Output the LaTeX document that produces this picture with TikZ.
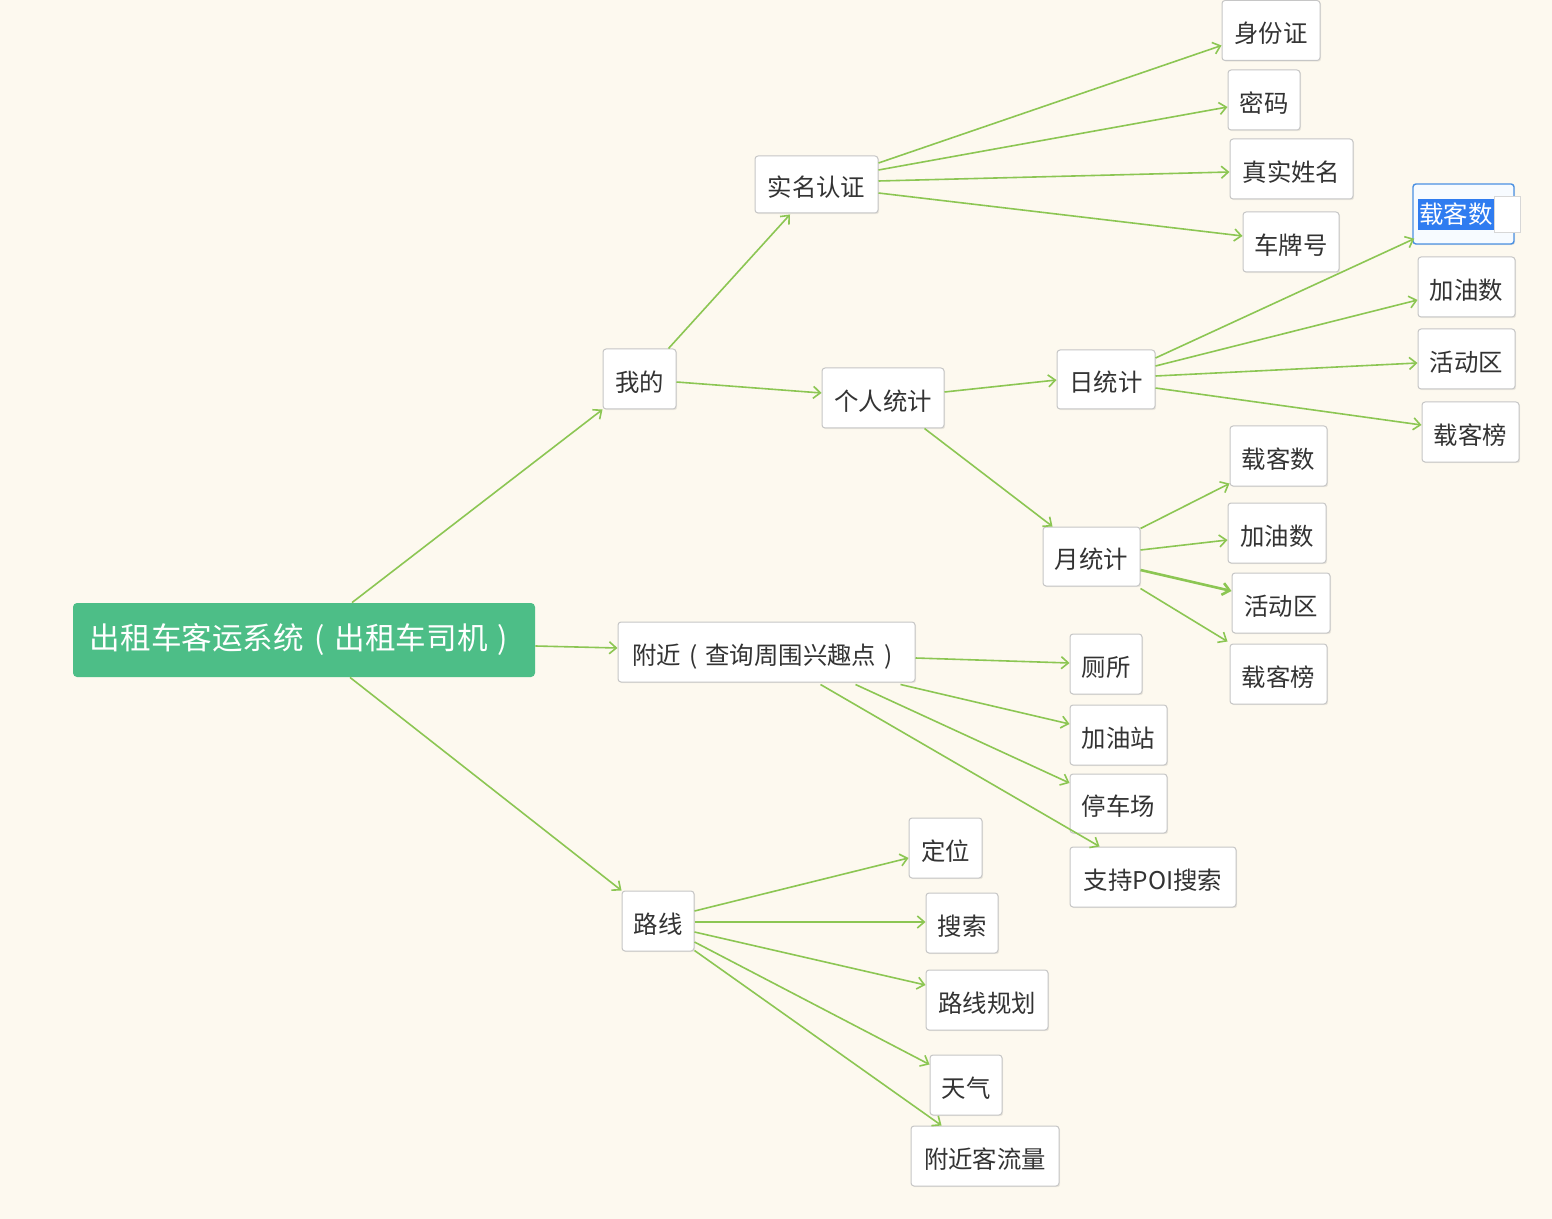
\documentclass[tikz,border=0pt]{standalone}
\usepackage{fontspec}
\newfontfamily\cjk{Noto Sans CJK SC}
\usetikzlibrary{arrows.meta,calc,shadows}
\definecolor{bg}{HTML}{FDF9EF}
\definecolor{boxgray}{HTML}{C6C6C6}
\definecolor{txt}{HTML}{333333}
\definecolor{lgreen}{HTML}{8CC653}
\definecolor{rootgreen}{HTML}{4DBE87}
\definecolor{selblue}{HTML}{4A90E2}
\definecolor{selfill}{HTML}{F7FBFF}
\definecolor{hl}{HTML}{2F7CF0}
\newcommand{\fwl}{\makebox[1em]{(}}
\newcommand{\fwr}{\makebox[1em]{)}}
\begin{document}
\begin{tikzpicture}[x=0.5pt,y=-0.5pt,
  box/.style={draw=boxgray, fill=white, rounded corners=1.5pt, minimum height=30pt,
    inner sep=0pt, line width=0.5pt, text=txt, font=\cjk\fontsize{12.2}{14}\selectfont,
    text height=12.4pt, text depth=0.2pt,
    drop shadow={shadow xshift=0.6pt,shadow yshift=-0.6pt,fill=black,opacity=0.07}},
  rootbox/.style={fill=rootgreen, rounded corners=2pt, minimum height=37pt, minimum width=231pt,
    inner sep=0pt, text=white, font=\cjk\fontsize{15.3}{18}\selectfont},
  link/.style={draw=lgreen, line width=0.8pt, -{Straight Barb[length=3.5pt,width=6pt]}},
  thick link/.style={link, line width=1.3pt}]
\fill[bg] (0,0) rectangle (1552,1219);
\useasboundingbox (0,0) rectangle (1552,1219);

% nodes
\node[rootbox] (root) at (304,640) {出租车客运系统\fwl 出租车司机\fwr};
\node[box, minimum width=36.5pt] (wode) at (639.5,379) {我的};
\node[box, minimum width=61.5pt, minimum height=28.5pt] (shiming) at (816.5,184.5) {实名认证};
\node[box, minimum width=49pt] (sfz) at (1271,30.5) {身份证};
\node[box, minimum width=36pt] (mima) at (1264,100) {密码};
\node[box, minimum width=61.5pt] (xm) at (1291.5,169) {真实姓名};
\node[box, minimum width=48pt] (cp) at (1291,242) {车牌号};
\node[box, minimum width=61pt] (geren) at (883,398) {个人统计};
\node[box, minimum width=49pt, minimum height=29.5pt] (ri) at (1106,379.5) {日统计};
\node[box, draw=selblue, fill=selfill, line width=0.7pt, minimum width=50.5pt] (zk1) at (1463.5,214) {};
\node[draw=boxgray!70, fill=white, minimum width=13pt, minimum height=18pt, inner sep=0pt] (cursor) at (1507,214.5) {};
\node[fill=hl, text=white, inner sep=0.5pt, minimum height=15.5pt, font=\cjk\fontsize{12.2}{14}\selectfont] (zk1t) at (1456,214.5) {载客数};
\node[box, minimum width=48.5pt] (jy1) at (1466.5,287) {加油数};
\node[box, minimum width=48.5pt] (hd1) at (1466.5,359) {活动区};
\node[box, minimum width=48.5pt] (bang1) at (1470.5,432) {载客榜};
\node[box, minimum width=48.5pt, minimum height=29.5pt] (yue) at (1091.5,556.5) {月统计};
\node[box, minimum width=48.5pt] (zk2) at (1278.5,456) {载客数};
\node[box, minimum width=49pt] (jy2) at (1277,533) {加油数};
\node[box, minimum width=49pt] (hd2) at (1281,603) {活动区};
\node[box, minimum width=48.5pt] (bang2) at (1278.5,674) {载客榜};
\node[box, minimum width=148.5pt] (fujin) at (766.5,652) {附近\fwl 查询周围兴趣点\fwr};
\node[box, minimum width=36pt] (cesuo) at (1106,664) {厕所};
\node[box, minimum width=48.5pt] (jyz) at (1118.5,735) {加油站};
\node[box, minimum width=48.5pt, minimum height=29.5pt] (tcc) at (1118.5,803.5) {停车场};
\node[box, minimum width=83pt] (poi) at (1153,877) {支持POI搜索};
\node[box, minimum width=36pt] (lx) at (658,921) {路线};
\node[box, minimum width=36.5pt] (dw) at (945.5,848) {定位};
\node[box, minimum width=36pt] (ss) at (962,923) {搜索};
\node[box, minimum width=61pt] (gh) at (987,1000) {路线规划};
\node[box, minimum width=36pt] (tq) at (966,1085) {天气};
\node[box, minimum width=74pt] (kl) at (985,1156) {附近客流量};

% connectors
\draw[link] ($(root.north)+(48,0)$) -- (wode.south west);
\draw[link] ($(root.east)+(0,6)$) -- ($(fujin.west)+(0,-4)$);
\draw[link] ($(root.south)+(46,0)$) -- (lx.north west);

\draw[link] ($(wode.north east)+(-8,0)$) -- ($(shiming.south)+(-26.5,1)$);
\draw[link] ($(wode.east)+(0,3)$) -- ($(geren.west)+(0,-5)$);

\draw[link] ($(shiming.east)+(0,-21.5)$) -- ($(sfz.west)+(0,15)$);
\draw[link] ($(shiming.east)+(0,-14.5)$) -- ($(mima.west)+(0,7)$);
\draw[link] ($(shiming.east)+(0,-3.5)$) -- ($(xm.west)+(0,3)$);
\draw[link] ($(shiming.east)+(0,8.5)$) -- ($(cp.west)+(0,-6)$);

\draw[link] ($(geren.east)+(0,-6)$) -- ($(ri.west)+(0,0.5)$);
\draw[link] ($(geren.south east)+(-20,0)$) -- ($(yue.north west)+(10,0)$);

\draw[link] ($(ri.east)+(0,-21.5)$) -- ($(zk1.south west)+(2,-6)$);
\draw[link] ($(ri.east)+(0,-13.5)$) -- ($(jy1.west)+(0,13)$);
\draw[link] ($(ri.east)+(0,-3.5)$) -- ($(hd1.west)+(0,4)$);
\draw[link] ($(ri.east)+(0,8.5)$) -- ($(bang1.west)+(0,-7)$);

\draw[link] ($(yue.north east)+(0,2)$) -- ($(zk2.south west)+(0,-3)$);
\draw[link] ($(yue.east)+(0,-6.5)$) -- ($(jy2.west)+(0,7)$);
\draw[thick link] ($(yue.east)+(0,13.5)$) -- ($(hd2.west)+(0,-12)$);
\draw[link] ($(yue.south east)+(0,2)$) -- ($(bang2.north west)+(-2,-2)$);

\draw[link] ($(fujin.east)+(0,6)$) -- ($(cesuo.west)+(0,-1)$);
\draw[link] ($(fujin.south east)+(-15,2)$) -- ($(jyz.west)+(0,-11)$);
\draw[link] ($(fujin.south east)+(-60,2)$) -- ($(tcc.west)+(0,-20.5)$);
\draw[link] ($(fujin.south east)+(-95,2)$) -- ($(poi.north west)+(30,0)$);

\draw[link] ($(lx.east)+(0,-10)$) -- ($(dw.west)+(0,10)$);
\draw[link] ($(lx.east)+(0,1)$) -- ($(ss.west)+(0,-1)$);
\draw[link] ($(lx.east)+(0,11)$) -- ($(gh.west)+(0,-15)$);
\draw[link] ($(lx.east)+(0,21)$) -- ($(tq.north west)+(0,10)$);
\draw[link] ($(lx.south east)+(0,-1)$) -- ($(kl.north west)+(31,0)$);
\end{tikzpicture}
\end{document}
